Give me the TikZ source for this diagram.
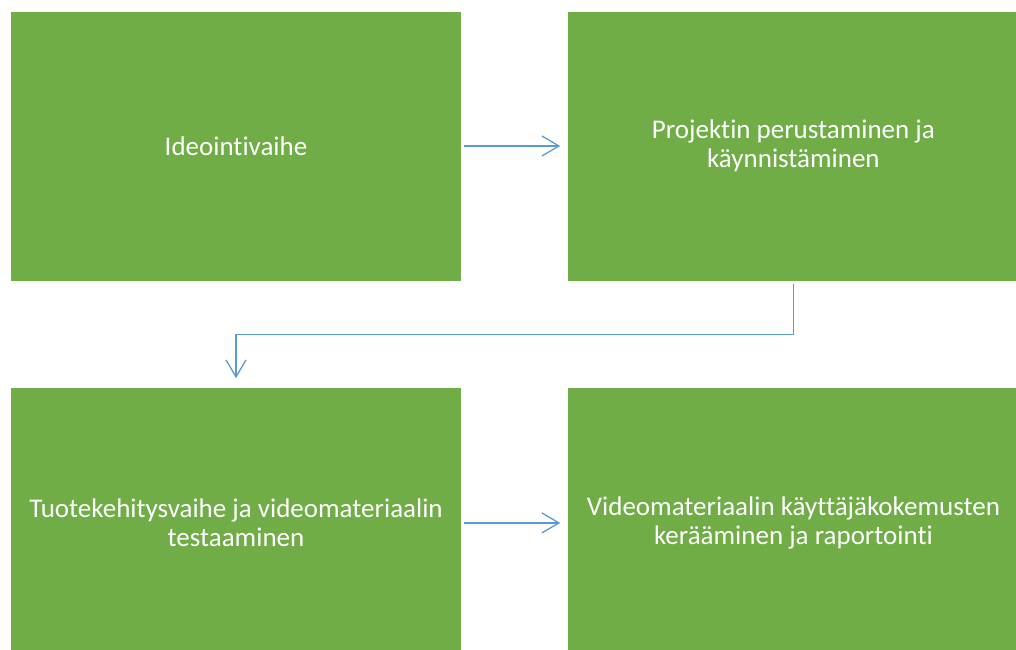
\documentclass[tikz,border=0pt]{standalone}
\usepackage{fontspec}
\setmainfont{Carlito}[Ligatures={NoCommon}]
\usepackage{tikz}
\usetikzlibrary{arrows.meta,positioning,calc}
\definecolor{phaseGreen}{HTML}{70AD47}
\definecolor{linkBlue}{HTML}{5B9BD5}
\tikzstyle{greenBox}=[fill=phaseGreen, rectangle, minimum width=450pt, minimum height=269pt, inner sep=0pt, text=white, align=center]
\tikzstyle{flowArrow}=[draw=linkBlue, line width=1.3pt, -{Straight Barb[length=17pt,width=20pt,line width=1.3pt]}]

\begin{document}
\begin{tikzpicture}[x=1pt,y=-1pt,font=\fontsize{27}{29}\selectfont,node distance=107pt]
      \clip (0,0) rectangle (1016,649);
      \fill[white] (0,0) rectangle (1016,649);
      \node [greenBox] (idea) at (236,146) {Ideointivaihe};
      \node [greenBox, right=of idea] (start) {Projektin perustaminen ja\\käynnistäminen};
      \node [greenBox, below=107.5pt of idea] (dev) {Tuotekehitysvaihe ja videomateriaalin\\testaaminen};
      \node [greenBox, right=of dev] (feedback) {Videomateriaalin käyttäjäkokemusten\\kerääminen ja raportointi};
      \draw [flowArrow, shorten <=3pt, shorten >=8pt] (idea) -- (start);
      \draw [flowArrow, shorten <=3pt, shorten >=10pt] (start.south) -- ++(0,53.5) -| (dev.north);
      \draw [flowArrow, shorten <=3pt, shorten >=8pt] (dev) -- (feedback);
    \end{tikzpicture}
\end{document}
